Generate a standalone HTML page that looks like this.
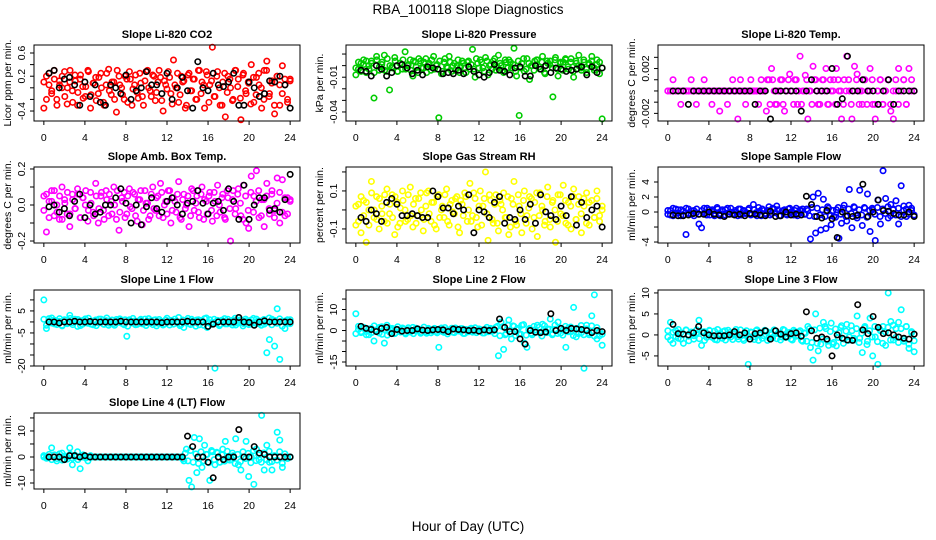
<!DOCTYPE html>
<html><head><meta charset="utf-8"><title>RBA_100118 Slope Diagnostics</title>
<style>
html,body{margin:0;padding:0;background:#fff;}
svg{display:block;font-family:"Liberation Sans",sans-serif;}
</style></head>
<body>
<svg id="chart" width="936" height="540" viewBox="0 0 936 540">
<rect width="936" height="540" fill="#fff"/>
<text x="468" y="14" text-anchor="middle" font-size="13.5">RBA_100118  Slope Diagnostics</text>
<text x="468" y="531" text-anchor="middle" font-size="13.5">Hour of Day (UTC)</text>
</svg>
<script>
// x-axis categories
const xTicks = [0,4,8,12,16,20,24];

// Panel 1: CO2
const co2Color = [-0.35,0.2,0.05,-0.1,0.3,-0.2,0.12,0.0,0.28,-0.28,0.1,-0.05,0.22,-0.3,0.15,0.02,-0.15,0.3,-0.35,0.08,
0.18,-0.1,0.25,-0.25,0.05,0.32,-0.12,0.1,-0.42,0.2,0.0,-0.2,0.15,0.28,-0.3,0.05,-0.08,0.25,-0.15,0.12,
0.3,-0.05,0.22,-0.22,0.1,0.18,-0.4,0.05,0.28,-0.1,0.48,0.0,-0.25,0.2,0.12,-0.3,0.25,-0.05,0.15,-0.2,
0.3,0.1,-0.35,0.22,0.05,0.7,-0.15,0.28,-0.3,0.1,-0.5,0.2,0.0,-0.2,0.3,0.15,-0.55,0.25,-0.1,0.08,
0.4,-0.25,0.18,0.05,-0.35,0.3,0.46,-0.1,0.12,-0.45,0.2,-0.3,0.38,0.05,-0.2,0.15];
const co2Color2 = [0.1,-0.2,0.25,-0.05,0.15,-0.3,0.05,0.2,-0.15,0.0,0.3,-0.25,0.12,-0.08,0.22,-0.18,0.02,0.28,-0.12,0.08,
-0.22,0.18,0.0,-0.3,0.25,-0.05,0.1,-0.2,0.3,0.05,-0.12,0.2,-0.25,0.15,-0.02,0.22,-0.18,0.08,-0.3,0.28,
0.0,-0.15,0.2,-0.08,0.3,-0.22,0.12,-0.02,0.18,-0.28,0.05,0.25,-0.12,0.1,-0.35,0.22,-0.05,0.15,-0.2,0.3,
-0.1,0.05,0.28,-0.25,0.12,-0.15,0.2,0.0,-0.3,0.25,-0.08,0.15,-0.22,0.3,0.02,-0.18,0.22,-0.05,0.1,-0.28,
0.18,-0.12,0.25,0.0,-0.2,0.3,-0.15,0.08,-0.3,0.2,0.05,-0.1,0.15,-0.25,0.12];
const co2Black = [0.25,0.3,0.0,0.15,0.18,0.05,-0.3,0.1,-0.15,0.05,-0.25,-0.3,0.05,0.0,-0.1,0.22,-0.2,-0.05,0.0,0.28,0.05,0.05,-0.1,0.25,-0.2,0.0,0.18,-0.05,-0.35,0.45,0.0,-0.05,0.25,0.05,0.02,0.1,0.25,-0.3,-0.3,0.1,0.0,-0.15,-0.1,0.12,0.1,0.2,0.05,-0.35];
const co2Ticks = [-0.4,-0.2,0,0.2,0.4,0.6];
const co2Labels = ["-0.4","","","0.2","","0.6"];

// Panel 2: Pressure
const pressColor = [-0.008,-0.003,0.002,0.005,-0.006,0,0.004,-0.028,0.008,-0.004,0.001,0.009,-0.005,-0.021,-0.001,0.007,-0.005,0.002,-0.003,0.012,
0,0.005,-0.009,0.003,-0.006,0.004,-0.002,0.006,0.001,-0.004,0.008,0,-0.045,-0.007,0.003,-0.001,0.008,-0.005,0.002,0,
-0.006,0.004,-0.002,0.003,-0.003,0.014,-0.01,0.002,0.005,-0.002,0.007,-0.008,0.001,0.004,-0.004,0.009,0,-0.006,0.003,0.005,
-0.002,0.015,-0.009,-0.043,0.002,-0.005,0.006,-0.012,0,0.004,0.005,-0.003,0.008,-0.007,0.002,0.004,-0.027,0.007,-0.009,0.003,
0.003,0.005,-0.003,0.006,-0.01,0.002,0.009,-0.004,0.003,-0.006,0.001,0.008,-0.002,0.005,-0.007,-0.046];
const pressColor2 = [-0.002,0.003,-0.005,0.001,0.004,-0.003,0.002,-0.006,0.005,-0.001,0.003,-0.004,0.006,0,-0.002,0.004,-0.005,0.002,0.005,-0.003,
0.001,-0.004,0.004,-0.001,0.006,-0.002,0.003,-0.006,0.002,0.005,-0.003,0.001,0.004,-0.005,0.006,-0.002,0.003,0,-0.004,0.005,
-0.001,0.002,-0.006,0.004,0.001,-0.003,0.006,-0.002,0.003,-0.005,0.004,0,-0.003,0.006,-0.001,0.002,-0.004,0.005,-0.002,0.003,
0.001,-0.005,0.004,-0.002,0.006,-0.003,0.002,0,-0.004,0.005,-0.001,0.003,-0.006,0.004,0.001,-0.002,0.005,-0.003,0.002,-0.004,
0.006,-0.001,0.003,-0.005,0.004,0,-0.002,0.005,-0.003,0.002,0.004,-0.004,0.001,0.003,-0.002];
const pressBlack = [-0.004,-0.005,-0.009,0,-0.003,-0.009,-0.006,0,0.001,-0.002,-0.007,-0.004,-0.008,-0.001,-0.002,-0.003,-0.007,-0.006,-0.007,-0.004,-0.007,-0.001,-0.005,-0.008,-0.01,-0.006,0.001,-0.004,-0.005,-0.008,-0.002,-0.001,-0.009,-0.009,0,-0.003,0,-0.006,-0.002,-0.003,-0.005,-0.004,-0.003,-0.001,-0.008,-0.001,-0.006,-0.002];
const pressTicks = [-0.04,-0.03,-0.02,-0.01,0,0.01];
const pressLabels = ["-0.04","","","-0.01","",""];

// Panel 3: Li-820 Temp
const tempColor = [0,0,0.001,0,0,-0.0012,0,0,0,0.001,0,-0.0012,0,0,0.001,0,0,-0.0012,0,0,
-0.0018,0,0,-0.0012,0,0.001,0,-0.0025,0.001,0,-0.0012,0,0.001,0,0,-0.0012,0.001,0,-0.0018,0.001,
0.002,0,-0.0012,0,0.001,-0.0018,0,0.0015,0,0.001,-0.0012,0.0031,0,0.0014,-0.0025,0,0.0022,0.001,-0.0012,0,
0.001,0.002,-0.0012,0,0.001,0.002,0,-0.0025,0.001,0.0031,0,-0.0025,0.0022,0.0015,0,-0.0012,0.001,0,0.002,-0.0012,
-0.0025,0,0.001,-0.0012,0,0.001,-0.0018,-0.0025,0,0.002,0,0.001,-0.0012,0.002,0.001,0];
const tempColor2 = [0,0,0,0,0,0,0,0,0,0,0,0,0,0,0,0,0,0,0,0,
0,0,0,0,0,0,0,0,0,0,0,0,0,0,0,0,0,0,0.001,-0.0012,
0.001,-0.0012,0,0.001,-0.0012,0,0.001,0,-0.0012,0.001,0,-0.0012,0,0.001,0,-0.0012,0.001,0,-0.0012,0.001,
0,-0.0012,0.001,0,-0.0012,0.001,0,-0.0012,0,0.001,-0.0012,0,0.001,-0.0012,0,0.001,-0.0012,0,0.001,-0.0012,
0,0.001,-0.0012,0,0.001,-0.0012,0,0.001,-0.0012,0,0.001,-0.0012,0,0,0];
const tempBlack = [0,0,0,-0.0012,0,0,0,0,0,0,0,0,0,0,0,0,-0.0012,0,0,-0.0025,0,0,0,0,0,-0.0018,0,0.001,0,0,0,0.002,-0.0012,-0.0007,0.0031,0,0,0.001,0,0,-0.0012,0,0.001,-0.0012,0,0,0,0];
const tempTicks = [-0.002,-0.001,0,0.001,0.002,0.003];
const tempLabels = ["-0.002","","","","0.002",""];

// Panel 4: Amb Box Temp
const ambColor = [0.05,-0.15,0.02,0.08,-0.06,0.0,-0.08,0.1,0.03,-0.05,-0.12,0.06,-0.02,0.09,-0.07,0.04,0.0,-0.09,0.07,-0.04,
0.12,-0.1,0.05,-0.03,0.08,-0.06,0.02,0.1,-0.08,-0.14,0.04,0.07,-0.05,0.09,-0.02,0.06,-0.09,0.03,-0.11,0.08,
0.01,-0.06,0.1,-0.03,0.05,0.12,-0.07,0.02,0.08,-0.1,0.04,-0.04,0.13,-0.08,0.06,0.0,-0.12,0.09,-0.03,0.05,
-0.07,0.1,0.03,-0.05,0.07,-0.09,0.02,0.11,-0.04,0.06,-0.08,0.04,-0.2,0.08,-0.02,0.09,-0.06,0.11,-0.1,-0.13,
0.16,0.05,0.19,-0.07,0.03,-0.12,0.12,-0.05,0.08,-0.03,0.15,-0.1,0.14,-0.06,0.04,0.02];
const ambColor2 = [-0.03,0.06,-0.07,0.02,0.08,-0.04,0.05,-0.08,0.01,0.07,-0.05,0.03,-0.02,0.06,-0.07,0.04,0.08,-0.03,0.01,-0.06,
0.05,-0.02,0.07,-0.08,0.03,0.06,-0.05,0.0,0.08,-0.04,0.02,-0.07,0.05,-0.01,0.07,-0.06,0.03,0.08,-0.03,0.01,
-0.08,0.06,-0.02,0.04,-0.06,0.07,0.0,-0.05,0.08,-0.03,0.02,0.06,-0.07,0.03,-0.02,0.05,-0.06,0.08,0.01,-0.04,
0.06,-0.08,0.02,0.05,-0.03,0.07,-0.06,0.0,0.04,-0.07,0.08,-0.02,0.03,-0.05,0.06,0.01,-0.08,0.05,-0.03,0.07,
-0.04,0.02,0.08,-0.06,0.03,0.05,-0.02,0.06,-0.07,0.01,0.07,-0.04,0.04,-0.05,0.03];
const ambBlack = [-0.01,0.0,-0.04,-0.02,-0.06,0.02,0.06,-0.07,0.0,-0.05,-0.04,0.0,0.0,0.04,0.09,0.01,-0.1,0.0,-0.11,-0.01,0.04,-0.02,-0.04,0.02,0.04,0.0,-0.05,0.01,0.02,0.08,0.01,-0.05,0.01,0.02,-0.03,0.09,0.02,-0.08,0.11,-0.08,0.0,0.04,0.04,-0.03,-0.02,-0.04,0.03,0.17];
const ambTicks = [-0.2,-0.1,0,0.1,0.2];
const ambLabels = ["-0.2","","0.0","","0.2"];

// Panel 5: Gas Stream RH
const rhColor = [-0.08,0.03,-0.12,0.05,-0.17,0.0,0.15,-0.04,0.07,-0.1,0.02,-0.06,0.11,-0.02,0.08,-0.13,0.04,-0.07,0.1,0.0,
-0.05,0.12,-0.09,0.06,-0.03,0.09,-0.11,0.02,0.1,-0.06,0.04,-0.1,0.08,0.0,-0.04,0.11,-0.08,0.05,-0.02,0.07,
-0.12,0.03,0.09,-0.06,0.14,-0.03,0.06,-0.09,0.1,0.02,0.2,-0.16,0.05,-0.07,0.08,-0.11,0.03,0.09,-0.04,-0.13,
0.06,0.15,-0.08,0.02,-0.12,0.1,-0.03,0.07,-0.1,0.04,-0.14,0.09,0.0,-0.06,0.12,-0.09,0.05,-0.17,0.08,-0.02,
0.13,-0.07,0.04,-0.1,0.11,-0.05,0.07,-0.12,0.02,0.09,-0.08,0.05,-0.04,0.1,-0.06,0.0];
const rhColor2 = [0.02,-0.06,0.07,-0.03,0.04,-0.08,0.09,0.0,-0.05,0.06,-0.02,0.08,-0.07,0.03,-0.04,0.07,-0.09,0.01,0.05,-0.06,
0.08,-0.03,0.03,-0.07,0.06,0.0,-0.05,0.09,-0.02,0.04,-0.08,0.07,-0.04,0.02,0.08,-0.06,0.03,-0.01,0.06,-0.09,
0.05,-0.03,0.07,0.0,-0.06,0.09,-0.04,0.02,-0.08,0.06,-0.02,0.08,-0.05,0.03,-0.07,0.05,0.0,-0.04,0.07,-0.09,
0.03,-0.06,0.08,-0.02,0.05,-0.07,0.01,0.06,-0.04,0.09,-0.03,0.02,-0.08,0.07,-0.05,0.04,0.0,-0.06,0.08,-0.03,
0.05,-0.08,0.02,0.07,-0.05,0.03,-0.02,0.06,-0.07,0.04,0.0,-0.04,0.06,-0.03,0.02];
const rhBlack = [-0.04,-0.06,0.0,-0.02,-0.06,0.04,0.06,0.03,-0.03,-0.03,-0.02,-0.03,-0.04,-0.04,0.1,0.07,0.01,0.01,-0.02,0.02,0.0,0.08,-0.12,0.0,-0.01,-0.04,0.04,0.07,-0.07,-0.04,-0.05,0.0,-0.05,0.03,-0.07,0.08,-0.01,-0.03,-0.05,0.02,-0.03,0.07,-0.08,0.04,-0.04,0.0,0.02,-0.09];
const rhTicks = [-0.1,0,0.1,0.2];
const rhLabels = ["-0.1","","0.1",""];

// Panel 6: Sample Flow
const sfColor = [0.2,-0.4,0.5,-0.2,0.3,-0.5,0.1,-3,0.4,-0.3,0.2,-0.1,-1.6,-2.1,0.5,-0.4,0.3,0.1,-0.5,0.6,
-0.2,0.3,-0.4,0.5,0,-0.3,0.2,-0.5,0.4,0.1,-0.2,0.3,-0.4,1.0,-0.1,0.6,-0.5,0.2,-0.3,0.7,
-0.2,0.4,0.8,-0.5,0.1,0.3,-0.4,0.5,-0.2,0.2,-0.5,0.3,0.4,-0.3,0.2,-3.6,2.0,-2.8,2.5,-2.4,
1.7,-2.2,0.5,-1.7,-0.6,0.3,-3.5,-1.5,0.9,-1.2,3.0,-2.1,0.6,-0.8,2.9,-1.8,0.5,2.4,-2.6,0.3,
-3.8,1.6,-1.6,5.5,1.8,-0.8,1.0,0.4,1.5,-1.6,3.5,0.8,-0.6,0.9,0.2,-0.5];
const sfColor2 = [-0.3,0.2,-0.5,0.4,-0.1,0.3,-0.4,0.5,-0.2,0.1,-0.5,0.4,-0.3,0.2,-0.1,0.5,-0.4,0.3,-0.2,0.4,
-0.5,0.1,0.3,-0.3,0.5,-0.2,0.0,0.4,-0.4,0.2,-0.1,0.5,-0.3,0.3,-0.5,0.1,0.4,-0.2,0.2,-0.4,
0.5,-0.1,0.3,-0.5,0.2,-0.3,0.4,0.0,-0.4,0.5,-0.2,0.1,-0.3,0.4,-0.5,0.6,-0.6,0.5,-0.4,0.3,
-0.6,0.7,-0.5,0.2,-0.7,0.6,-0.3,0.5,-0.6,0.4,-0.2,0.7,-0.5,0.3,-0.4,0.6,-0.7,0.2,0.5,-0.3,
0.6,-0.6,0.4,-0.2,0.7,-0.5,0.3,-0.4,0.5,-0.6,0.2,0.4,-0.3,0.5,-0.4];
const sfBlack = [-0.4,-0.5,-0.5,-0.4,-0.2,-0.3,-0.3,0.0,-0.3,-0.4,-0.6,-0.3,-0.4,-0.3,-0.5,-0.2,-0.3,-0.4,-0.5,0.1,-0.6,-0.5,0.0,-0.4,-0.3,-0.4,2.1,1.0,-0.6,-0.8,0.2,-0.9,-3.4,0.0,-0.5,-0.6,-0.4,3.7,-0.6,0.0,1.6,0.2,0.1,-0.2,-0.4,-0.4,0.0,-0.6];
const sfTicks = [-4,-2,0,2,4];
const sfLabels = ["-4","","0","2","4"];

// Panel 7: Line 1 Flow
const l1Color = [10,-3,1.5,-0.5,0.8,-1.2,0.3,-1.5,1.0,-0.8,3,-0.3,1.2,-2,0.5,-1,1.4,-0.6,0.2,-1.3,
0.9,-0.4,1.3,-1,0.6,-1.5,0.1,-0.7,1.1,-0.2,0.8,-1.3,-6.5,1.0,-0.5,0.4,-1.1,0.7,-0.9,1.3,
-0.3,0.5,-1.2,1.0,-0.6,0.2,-1.4,0.9,-0.1,0.7,-1.0,0.3,2,-1.2,-2.5,0.6,-0.8,1.2,-0.4,0.9,
-1.3,0.4,1.5,-2.5,1.0,-0.2,-21,0.7,-1.1,0.3,-0.9,1.2,-0.5,0.8,-1.4,0.2,1.0,-0.7,0.5,-1.2,
0.9,-0.3,1.3,-0.8,0.4,-1.0,-14,-8,1.2,-11,6,-17,0.3,-3,-0.6,1.0];
const l1Color2 = [1.2,-1.5,0.5,1.8,-0.9,0.3,1.5,-1.8,0.8,-0.4,1.6,-1.2,0.2,1.1,-1.6,0.7,-0.2,1.7,-1.0,0.4,
-1.7,1.3,0.0,-1.1,1.8,-0.6,0.9,-1.5,0.3,1.4,-0.8,1.0,-1.9,0.6,1.6,-1.3,0.1,1.2,-0.7,-1.6,
1.5,-0.3,0.8,-1.8,1.1,0.2,-1.0,1.7,-1.4,0.5,1.3,-0.6,-1.7,0.9,0.0,1.6,-1.2,0.4,-1.9,1.0,
0.6,-1.5,1.8,-0.4,-1.1,1.2,0.3,-1.7,0.8,1.5,-0.9,0.1,-1.4,1.7,-0.5,0.9,-1.8,1.3,0.2,-1.0,
1.6,-0.7,0.5,-1.5,1.1,-0.2,1.8,-1.3,0.7,-0.6,1.4,-1.9,0.4,1.0,-0.8];
const l1Black = [0,0,-0.5,0,0,0.3,0,0,0.2,0,0,0,0,0,0.3,0,0,0,0,0,0,0,-0.3,0,0,0,0,0.3,0,0,0,-2,-1,0,0,0,0,2,0,-0.2,-1.5,0,0.5,0,0,0,0,0];
const l1Ticks = [-20,-15,-10,-5,0,5,10];
const l1Labels = ["-20","","","-5","","5",""];

// Panel 8: Line 2 Flow
const l2Color = [8,0.5,-1,1.5,-0.5,-2,1,-5,0.3,-1.2,1.8,-6,2.5,-0.8,1,-1.5,0.6,-0.3,1.2,-1,
0.4,-0.7,1.5,-0.2,0.8,-1.3,0.2,-0.6,1.0,-1.1,0.5,-0.4,-8,1.2,-0.9,0.3,-0.5,1.1,-1.0,0.6,
-0.3,0.9,-1.4,0.2,0.7,-0.8,1.3,-0.1,0.5,-1.2,0.4,-0.6,1.0,-0.2,1.5,-12,4,-9,-1.5,5,
-4,2,0.5,-1.8,2.5,-6,-8,1.0,-2,0.3,2.5,-1.2,3,-0.5,0.8,5.5,-1.5,0.6,4,-1.2,
0.5,-8,1.2,-0.6,11,-3,0.8,-1,-18,2.5,-2,7,17,-4,-2.5,-7];
const l2Color2 = [-1.5,2,-0.5,1.2,-2,0.8,-1,2.2,-0.3,1.5,-1.8,0.5,-2.2,1.0,0.2,-1.2,1.8,-0.7,0.6,-1.6,
1.3,-0.4,-1.5,1.1,0.0,-0.9,1.6,-1.3,0.4,-0.2,1.0,-1.1,0.7,-0.5,1.4,-1.6,0.3,-0.8,1.2,-0.1,
0.9,-1.4,0.5,-0.6,1.1,-0.3,-1.0,0.8,0.1,-1.2,1.5,-0.4,0.6,-1.5,2.0,-2.5,1.8,-2.0,2.5,-1.6,
2.2,-2.4,1.0,-1.8,2.8,-2.2,0.5,-1.3,2.0,-0.8,1.6,-2.6,2.3,-1.0,0.6,-2.0,2.6,-1.4,1.2,-2.2,
2.0,-0.6,1.7,-2.4,1.0,-1.5,2.4,-2.0,0.8,-1.2,2.2,-2.6,1.4,-0.5,-1.8];
const l2Black = [2,1,0.5,-0.5,1,1.5,-1.5,0.5,-0.3,0,0,0.8,0.2,0,0.3,0.5,0.3,-0.5,0.7,0.5,0.3,0,0.2,-0.3,0.3,0,0.3,5.5,1.5,-0.5,-0.5,-4,-6.5,0,-0.8,-1,-0.7,8,0,1,0,1,0.8,0.5,0,-1,0,-0.5];
const l2Ticks = [-15,-10,-5,0,5,10,15];
const l2Labels = ["-15","","","0","","10",""];

// Panel 9: Line 3 Flow
const l3Color = [-0.5,3,-2,1,-0.8,0.5,-2,1.2,-0.3,0.7,-1,0.4,3.5,-2.5,0.8,-0.6,1.1,-0.4,0.9,-1.2,
0.3,-0.8,1.0,-0.2,0.6,-1.1,0.5,-0.4,1.2,-0.9,0.2,-7,0.7,-0.5,1.0,-1.3,0.4,-0.2,0.9,-0.7,
0.1,1.2,-0.9,0.3,-0.5,1.1,-0.3,0.6,-1.2,0.8,-0.1,1.0,-1.5,0.4,2,-3,-6,5,-3.8,-2.2,
3,1.5,-2.5,2.8,-1.8,-2.6,0.5,2.2,-1,2.5,-0.5,1.0,-1.2,4.5,-0.8,-4.2,2,-1.5,4,-5,
-0.5,-7,1,2,-2.5,10,3.2,-1.2,1.5,3,6,-1.5,2,-3.2,0.5,-4];
const l3Color2 = [1.0,-1.2,0.6,-0.4,1.3,-1.0,0.2,1.1,-1.4,0.5,-0.2,1.2,-0.9,0.7,-1.3,0.3,1.0,-0.6,-1.1,1.3,
-0.3,0.8,-1.2,1.1,-0.5,0.4,1.3,-1.0,0.0,-1.3,1.0,-0.4,0.6,-1.1,1.2,0.1,-0.8,1.1,-1.3,0.5,
-0.7,0.9,0.3,-1.2,1.3,-0.6,0.2,-1.0,1.1,-0.3,0.7,-1.3,0.5,-1.5,1.5,-1.8,1.2,-2.0,1.6,-1.0,
2.0,-1.5,0.8,-2.2,1.4,-0.6,1.8,-2.0,0.9,-1.3,2.2,-0.8,1.5,-1.8,0.4,1.7,-2.3,1.0,-0.5,2.0,
-1.6,1.3,-2.0,0.7,1.8,-1.2,2.3,-0.6,-1.8,1.5,-1.0,2.0,-2.2,0.8,-1.4];
const l3Black = [2.5,0.3,0.2,0,0.5,2,0.5,0,-0.2,-0.2,-0.2,0,0.8,0,0.5,-1,0.3,0.5,1,-1,1,0.2,-0.5,0.3,0.5,-0.3,5.5,1,-0.8,-0.5,-1,-5,0,-0.8,-1.2,-1.3,7.2,1.2,0.3,4.4,1.8,0.3,0.5,0,-0.5,-0.8,-1,0.2];
const l3Ticks = [-5,0,5,10];
const l3Labels = ["-5","0","5","10"];

// Panel 10: Line 4 (LT) Flow
const l4Color = [0,0,0,3.5,0,-1.5,0,1.5,-1,0,3.5,-3,0,2,-4.5,0,0,-1.5,0.5,0,
0,0,0,0,0,0,0,0,0,0,0,0,0,0,0,0,0,0,0,0,
0,0,0,0,0,0,0,0,0,0,0,0,0,0,-1.5,3,-9,-11.5,7.5,-6,
7,-4,4.5,1,-9,2,-3,1.5,-2,3,6,-1,0,0.5,7,-3,-5,0,6,-7.5,
0,-10.5,3,-1,16,-5,4.5,-2,-5,0,9.5,6.5,-4,0,0,0];
const l4Color2 = [0.5,-0.5,1,-1,0.8,-0.6,1.2,-1.2,0.4,-0.8,1,-0.5,0.6,-1,0.3,0.8,-0.4,0.2,0,0,
0,0,0,0,0,0,0,0,0,0,0,0,0,0,0,0,0,0,0,0,
0,0,0,0,0,0,0,0,0,0,0,0,0,-0.8,1.5,-1.5,2.5,-2,1.2,-2.5,
2,-1.5,1,-2.2,2.5,-1,1.8,-2,0.8,-1.6,2.2,-1.2,1.5,-2.5,1,-1.8,2,-0.6,1.4,-2.2,
2.4,-1.4,0.8,-2,1.6,-1,2.2,-1.8,0.5,-1.2,2,-2.4,1.2,-0.6,0];
const l4Black = [0,0,0,-1,0.5,0.5,0,0.5,0,0,0,0,0,0,0,0,0,0,0,0,0,0,0,0,0,0,0,8,4,0,0,-2,-8,0,-1,0,0,10.5,0,0,4,1.5,1,0,0,0,0,0];
const l4Ticks = [-10,-5,0,5,10,15];
const l4Labels = ["-10","","0","","10",""];

const NS = "http://www.w3.org/2000/svg";
const svg = document.getElementById('chart');
function mk(tag, attrs, parent){
  const e = document.createElementNS(NS, tag);
  for (const k in attrs) e.setAttribute(k, attrs[k]);
  (parent||svg).appendChild(e);
  return e;
}

function panel(key, title, ytitle, col, row, ylo, yhi, colorSets, colorHex, blackVals, ticks, labels){
  const L = [34,346,658][col], T = [45,167,290,413][row], W = 266, H = 76;
  const g = mk('g', {});
  
  
  const xs = h => L + (h + 0.96) / 25.92 * W;
  const ys = v => T + H - (v - ylo) / (yhi - ylo) * H;
  const pts = mk('g', {}, g);
  
  
  colorSets.forEach(colorVals => {
    colorVals.forEach((v, i) => {
      const h = i * 24 / (colorVals.length - 1);
      const c = mk('circle', {cx: xs(h), cy: ys(v), r: 2.7, fill: 'none', stroke: colorHex, 'stroke-width': 1.6}, pts);
      
      
    });
  });
  blackVals.forEach((v, i) => {
    const h = 0.5 + i * 23.5 / (blackVals.length - 1);
    const c = mk('circle', {cx: xs(h), cy: ys(v), r: 2.7, fill: 'none', stroke: '#000', 'stroke-width': 1.6}, pts);
    
    
  });
  const box = mk('rect', {x: L, y: T, width: W, height: H, fill: 'none', stroke: '#000', 'stroke-width': 1}, g);
  
  
  const xa = mk('g', {}, g);
  
  
  mk('line', {x1: xs(xTicks[0]), x2: xs(xTicks[xTicks.length-1]), y1: T+H, y2: T+H, stroke:'#000'}, xa);
  xTicks.forEach(t => {
    mk('line', {x1: xs(t), x2: xs(t), y1: T+H, y2: T+H+4, stroke:'#000'}, xa);
    const tx = mk('text', {x: xs(t), y: T+H+20, 'text-anchor':'middle', 'font-size': 10.5}, xa);
    tx.textContent = t;
    
    
  });
  const ya = mk('g', {}, g);
  
  
  mk('line', {x1: L, x2: L, y1: ys(ticks[0]), y2: ys(ticks[ticks.length-1]), stroke:'#000'}, ya);
  ticks.forEach((t, i) => {
    mk('line', {x1: L-4, x2: L, y1: ys(t), y2: ys(t), stroke:'#000'}, ya);
    if (labels[i]) {
      const tx = mk('text', {x: 0, y: 0, 'text-anchor':'middle', 'font-size': 10.5, transform: `translate(${L-9},${ys(t)}) rotate(-90)`}, ya);
      tx.textContent = labels[i];
      
      
    }
  });
  const yt = mk('text', {x: 0, y: 0, 'text-anchor':'middle', 'font-size': 10.5, transform: `translate(${L-23},${T+H/2}) rotate(-90)`}, g);
  yt.textContent = ytitle;
  
  
  const tt = mk('text', {x: L + W/2, y: T - 7, 'text-anchor':'middle', 'font-size': 11, 'font-weight':'bold'}, g);
  tt.textContent = title;
  
  
}

panel('co2', 'Slope Li-820 CO2', 'Licor ppm per min.', 0, 0, -0.572, 0.738, [co2Color, co2Color2], '#ff0000', co2Black, co2Ticks, co2Labels);
panel('pressure', 'Slope Li-820 Pressure', 'kPa per min.', 1, 0, -0.0478, 0.0178, [pressColor, pressColor2], '#00cc00', pressBlack, pressTicks, pressLabels);
panel('licor-temp', 'Slope Li-820 Temp.', 'degrees C per min.', 2, 0, -0.00268, 0.0041, [tempColor, tempColor2], '#ff00ff', tempBlack, tempTicks, tempLabels);
panel('amb-temp', 'Slope Amb. Box Temp.', 'degrees C per min.', 0, 1, -0.211, 0.211, [ambColor, ambColor2], '#ff00ff', ambBlack, ambTicks, ambLabels);
panel('rh', 'Slope Gas Stream RH', 'percent per min.', 1, 1, -0.174, 0.226, [rhColor, rhColor2], '#ffff00', rhBlack, rhTicks, rhLabels);
panel('sample-flow', 'Slope Sample Flow', 'ml/min per min.', 2, 1, -4.13, 6, [sfColor, sfColor2], '#0000ff', sfBlack, sfTicks, sfLabels);
panel('line1', 'Slope Line 1 Flow', 'ml/min per min.', 0, 2, -20, 14.5, [l1Color, l1Color2], '#00ffff', l1Black, l1Ticks, l1Labels);
panel('line2', 'Slope Line 2 Flow', 'ml/min per min.', 1, 2, -16.9, 19.3, [l2Color, l2Color2], '#00ffff', l2Black, l2Ticks, l2Labels);
panel('line3', 'Slope Line 3 Flow', 'ml/min per min.', 2, 2, -7.4, 10.7, [l3Color, l3Color2], '#00ffff', l3Black, l3Ticks, l3Labels);
panel('line4', 'Slope Line 4 (LT) Flow', 'ml/min per min.', 0, 3, -12.3, 16.9, [l4Color, l4Color2], '#00ffff', l4Black, l4Ticks, l4Labels);
</script>
</body></html>
